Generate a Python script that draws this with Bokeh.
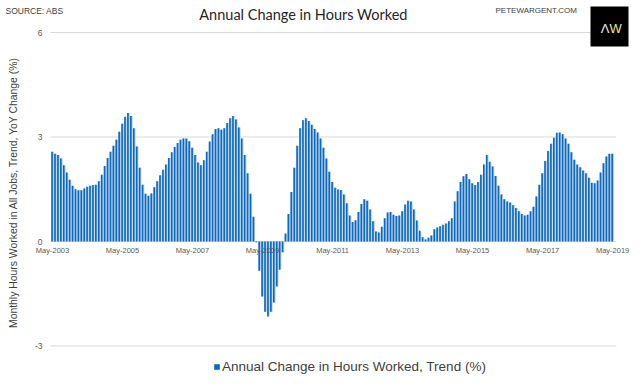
import math
from bokeh.plotting import figure
from bokeh.models import Range1d, Label, Legend, LegendItem, ColumnDataSource
from bokeh.core.properties import value
from bokeh.embed import file_html
from bokeh.resources import INLINE

# ---- data (monthly, May-2003 .. May-2019), annual % change in hours worked, trend
tick_labels = ["May-2003", "May-2005", "May-2007", "May-2009", "May-2011",
               "May-2013", "May-2015", "May-2017", "May-2019"]
y_ticks = [-3, 0, 3, 6]
y_tick_labels = ["-3", "0", "3", "6"]

hours_2003_2006 = [2.58, 2.52, 2.48, 2.38, 2.19, 1.98, 1.77, 1.60, 1.50, 1.47, 1.47, 1.52,
                   1.57, 1.60, 1.62, 1.63, 1.73, 1.92, 2.17, 2.40, 2.58, 2.75, 2.92, 3.15,
                   3.38, 3.58, 3.69, 3.60, 3.25, 2.73, 2.12, 1.63, 1.37]
hours_2006_2008 = [1.31, 1.38, 1.56, 1.73, 1.90, 2.06, 2.21, 2.40, 2.56, 2.71, 2.83, 2.92,
                   2.96, 2.96, 2.88, 2.69, 2.48, 2.27, 2.19, 2.33, 2.58, 2.87, 3.08, 3.23,
                   3.25, 3.21, 3.25, 3.40, 3.54, 3.60, 3.50, 3.27]
hours_2008_2011 = [2.96, 2.48, 1.96, 1.37, 0.71, -0.02, -0.84, -1.58, -2.02, -2.15, -2.02, -1.75,
                   -1.29, -0.81, -0.31, 0.23, 0.79, 1.42, 2.12, 2.75, 3.25, 3.48, 3.54, 3.46,
                   3.35, 3.23, 3.13, 2.96, 2.69, 2.38, 2.00, 1.71, 1.54]
hours_2011_2014 = [1.49, 1.48, 1.35, 1.10, 0.75, 0.56, 0.61, 0.85, 1.08, 1.21, 1.17, 0.92,
                   0.58, 0.29, 0.26, 0.42, 0.67, 0.83, 0.85, 0.77, 0.73, 0.75, 0.87, 1.06,
                   1.17, 1.15, 0.92, 0.60, 0.31, 0.12, 0.06, 0.11]
hours_2014_2016 = [0.17, 0.35, 0.40, 0.44, 0.48, 0.52, 0.58, 0.67, 1.15, 1.44, 1.71, 1.87,
                   1.94, 1.79, 1.67, 1.62, 1.71, 1.92, 2.21, 2.48, 2.29, 2.15, 1.88, 1.60,
                   1.35, 1.21, 1.15, 1.12, 1.04, 0.96]
hours_2016_2019 = [0.87, 0.79, 0.75, 0.77, 0.87, 1.00, 1.29, 1.63, 1.96, 2.31, 2.60, 2.81,
                   2.98, 3.12, 3.13, 3.08, 2.96, 2.81, 2.56, 2.35, 2.21, 2.13, 2.04, 1.96,
                   1.83, 1.69, 1.67, 1.75, 1.98, 2.25, 2.44, 2.52, 2.52]

hours_yoy = (hours_2003_2006 + hours_2006_2008 + hours_2008_2011 +
             hours_2011_2014 + hours_2014_2016 + hours_2016_2019)
n = len(hours_yoy)
month_idx = list(range(n))
tick_pos = list(range(0, n, 24))[:len(tick_labels)]

# ---- layout helpers: picture pixel -> data coordinate (the frame fills the whole canvas)
W, H = 632, 379
X0, DX = 52.0, 2.917      # x of first bar, px per month
Y0, DY = 241.0, 34.83     # y of zero line, px per percentage point
def px2x(px): return (px - X0) / DX
def py2y(py): return (Y0 - py) / DY

FONT = "Liberation Sans"
TXT = "#404040"
GRID = "#d9d9d9"

p = figure(width=W, height=H, output_backend="svg", toolbar_location=None,
           x_range=Range1d(px2x(0), px2x(W)), y_range=Range1d(py2y(H), py2y(0)),
           x_axis_type=None, y_axis_type=None,
           min_border=0, min_border_left=0, min_border_right=0,
           min_border_top=0, min_border_bottom=0)
p.outline_line_color = None
p.grid.visible = False

# gridlines across the plot area
grid_src = ColumnDataSource(dict(y=y_ticks, x0=[-0.7] * len(y_ticks), x1=[n + 0.3] * len(y_ticks)))
p.segment(x0="x0", x1="x1", y0="y", y1="y", source=grid_src, line_color=GRID, line_width=1)

# bars: light body with darker main stripe (Excel-like shading)
src = ColumnDataSource(dict(x=month_idx, xd=[i - 0.14 for i in month_idx], y=hours_yoy))
p.vbar(x="x", top="y", bottom=0, width=0.92, source=src,
       fill_color="#b4cbe6", line_color=None)
dark = p.vbar(x="xd", top="y", bottom=0, width=0.55, source=src,
              fill_color="#0a69c3", line_color=None)

# x tick labels under the zero line
tick_src = ColumnDataSource(dict(x=tick_pos, y=[0] * len(tick_pos), t=tick_labels))
p.text(x="x", y="y", text="t", source=tick_src, text_align="center", text_baseline="top",
       y_offset=4, text_font=value(FONT), text_font_size="7.5px", text_color="#595959")

# y tick labels
ytick_src = ColumnDataSource(dict(x=[px2x(42)] * len(y_ticks), y=y_ticks, t=y_tick_labels))
p.text(x="x", y="y", text="t", source=ytick_src, text_align="right", text_baseline="middle",
       text_font=value(FONT), text_font_size="8.5px", text_color="#595959")

# y axis title
p.add_layout(Label(x=px2x(13), y=py2y(192), text="Monthly Hours Worked in All Jobs, Trend, YoY Change (%)",
                   angle=math.pi / 2, text_align="center", text_baseline="middle",
                   text_font=FONT, text_font_size="10.4px", text_color=TXT))

# chart title and header texts
p.add_layout(Label(x=px2x(303), y=py2y(14), text="Annual Change in Hours Worked",
                   text_align="center", text_baseline="middle", text_font="Lato",
                   text_font_size="14.5px", text_color="#262626"))
p.add_layout(Label(x=px2x(5), y=py2y(10), text="SOURCE: ABS", text_align="left",
                   text_baseline="middle", text_font=FONT, text_font_size="8.5px", text_color=TXT))
p.add_layout(Label(x=px2x(495), y=py2y(10), text="PETEWARGENT.COM", text_align="left",
                   text_baseline="middle", text_font=FONT, text_font_size="8px", text_color=TXT))

# logo box
logo_src = ColumnDataSource(dict(l=[px2x(590)], r=[px2x(628)], t=[py2y(6)], b=[py2y(46)]))
p.quad(left="l", right="r", top="t", bottom="b", source=logo_src, fill_color="black", line_color=None)
p.add_layout(Label(x=px2x(609), y=py2y(28), text="Λ", text_align="right", text_baseline="middle",
                   text_font=FONT, text_font_size="13px", text_color="#e8e8e8"))
p.add_layout(Label(x=px2x(609), y=py2y(28), text="W", text_align="left", text_baseline="middle",
                   text_font=FONT, text_font_size="13px", text_color="#efe38a"))

# legend at bottom (location in px from canvas bottom-left)
legend = Legend(items=[LegendItem(label="Annual Change in Hours Worked, Trend (%)", renderers=[dark])],
                location=(213, H - 366 - 8), orientation="horizontal",
                label_text_font=FONT, label_text_font_size="13.5px", label_text_color=TXT,
                glyph_width=7, glyph_height=7, border_line_color=None,
                background_fill_alpha=0, margin=0, padding=1, label_standoff=2,
                label_height=14)
p.add_layout(legend)

open("out.html", "w").write(file_html(p, INLINE))
